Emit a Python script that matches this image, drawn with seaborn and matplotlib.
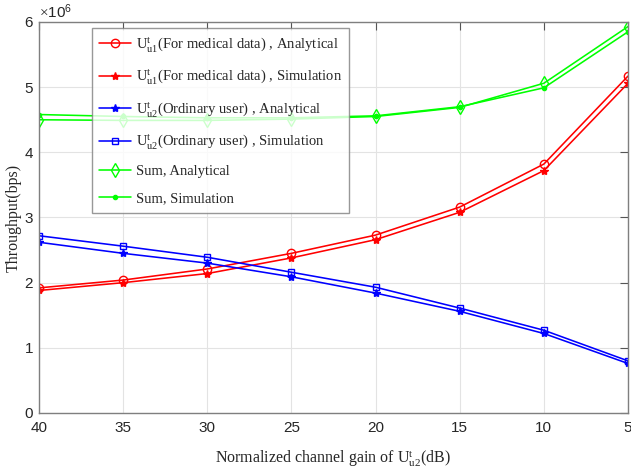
import matplotlib
matplotlib.use("Agg")
import matplotlib.pyplot as plt
import matplotlib.ticker as mticker
import seaborn as sns
import pandas as pd

# Normalized channel gain of the ordinary user (dB)
gain_db = [40, 35, 30, 25, 20, 15, 10, 5]

# Throughput (bps)
u1_analytical = [1.92e6, 2.04e6, 2.21e6, 2.45e6, 2.73e6, 3.16e6, 3.82e6, 5.17e6]
u1_simulation = [1.88e6, 2.00e6, 2.14e6, 2.38e6, 2.66e6, 3.08e6, 3.72e6, 5.06e6]
u2_analytical = [2.62e6, 2.45e6, 2.30e6, 2.09e6, 1.84e6, 1.56e6, 1.22e6, 0.76e6]
u2_simulation = [2.72e6, 2.56e6, 2.39e6, 2.16e6, 1.93e6, 1.61e6, 1.27e6, 0.80e6]
sum_analytical = [4.50e6, 4.49e6, 4.49e6, 4.51e6, 4.55e6, 4.69e6, 5.06e6, 5.93e6]
sum_simulation = [4.58e6, 4.55e6, 4.53e6, 4.53e6, 4.56e6, 4.70e6, 4.99e6, 5.85e6]

labels = [
    r"$\mathrm{U}^{\mathrm{t}}_{\mathrm{u1}}$(For medical data) , Analytical",
    r"$\mathrm{U}^{\mathrm{t}}_{\mathrm{u1}}$(For medical data) , Simulation",
    r"$\mathrm{U}^{\mathrm{t}}_{\mathrm{u2}}$(Ordinary user) , Analytical",
    r"$\mathrm{U}^{\mathrm{t}}_{\mathrm{u2}}$(Ordinary user) , Simulation",
    "Sum, Analytical",
    "Sum, Simulation",
]

sns.set_theme(style="white")
plt.rcParams["font.family"] = ["Liberation Serif", "DejaVu Serif"]
plt.rcParams["mathtext.fontset"] = "custom"
plt.rcParams["mathtext.rm"] = "Liberation Serif"
plt.rcParams["mathtext.it"] = "Liberation Serif:italic"

fig = plt.figure(figsize=(6.31, 4.71), dpi=100)
ax = fig.add_axes([39 / 631, (471 - 413) / 471, 589 / 631, 391 / 471])

series = [
    (u1_analytical, "#ff0000", "o", "none", 6),
    (u1_simulation, "#ff0000", "*", "#ff0000", 6),
    (u2_analytical, "#0000ff", "*", "#0000ff", 6),
    (u2_simulation, "#0000ff", "s", "none", 5),
    (sum_analytical, "#00ff00", "d", "none", 7),
    (sum_simulation, "#00ff00", ".", "#00ff00", 6),
]

for (vals, color, marker, mfc, ms), label in zip(series, labels):
    df = pd.DataFrame({"gain": gain_db, "thr": vals})
    sns.lineplot(data=df, x="gain", y="thr", ax=ax, color=color, marker=marker,
                 markerfacecolor=mfc, markeredgecolor=color, markersize=ms,
                 markeredgewidth=1.0, linewidth=1.15, label=label, sort=False)

ax.set_xlim(40, 5)
ax.set_ylim(0, 6e6)
ax.set_xticks(gain_db)
ax.set_yticks([0, 1e6, 2e6, 3e6, 4e6, 5e6, 6e6])

fmt = mticker.ScalarFormatter(useMathText=True)
fmt.set_powerlimits((0, 0))
ax.yaxis.set_major_formatter(fmt)
ax.yaxis.get_offset_text().set_fontsize(11)
ax.yaxis.get_offset_text().set_color("#333333")
ax.yaxis.get_offset_text().set_family(["Liberation Sans", "DejaVu Sans"])

ax.grid(True, color="#e3e3e3", linewidth=0.8)
for sp in ax.spines.values():
    sp.set_color("#7f7f7f")
    sp.set_linewidth(1.0)
ax.tick_params(direction="in", length=5.5, width=0.8, color="#555555",
               top=True, right=True, labelsize=11, labelcolor="#262626")
ax.tick_params(axis="x", pad=6)
for lbl in ax.get_xticklabels() + ax.get_yticklabels():
    lbl.set_family(["Liberation Sans Narrow", "Liberation Sans", "DejaVu Sans"])

ax.set_xlabel(r"Normalized channel gain of $\mathrm{U}^{\mathrm{t}}_{\mathrm{u2}}$(dB)",
              fontsize=11.5, color="#262626", labelpad=9)
ax.set_ylabel("Throughput(bps)", fontsize=11.5, color="#262626", labelpad=2)

leg = ax.legend(loc="upper left", bbox_to_anchor=(0.09, 0.985), fontsize=10.5,
                frameon=True, fancybox=False, edgecolor="#7f7f7f",
                handlelength=2.2, labelspacing=0.95, borderpad=0.5,
                handletextpad=0.3, borderaxespad=0)
leg.get_frame().set_linewidth(1.0)

fig.savefig("out.png", dpi=100)
